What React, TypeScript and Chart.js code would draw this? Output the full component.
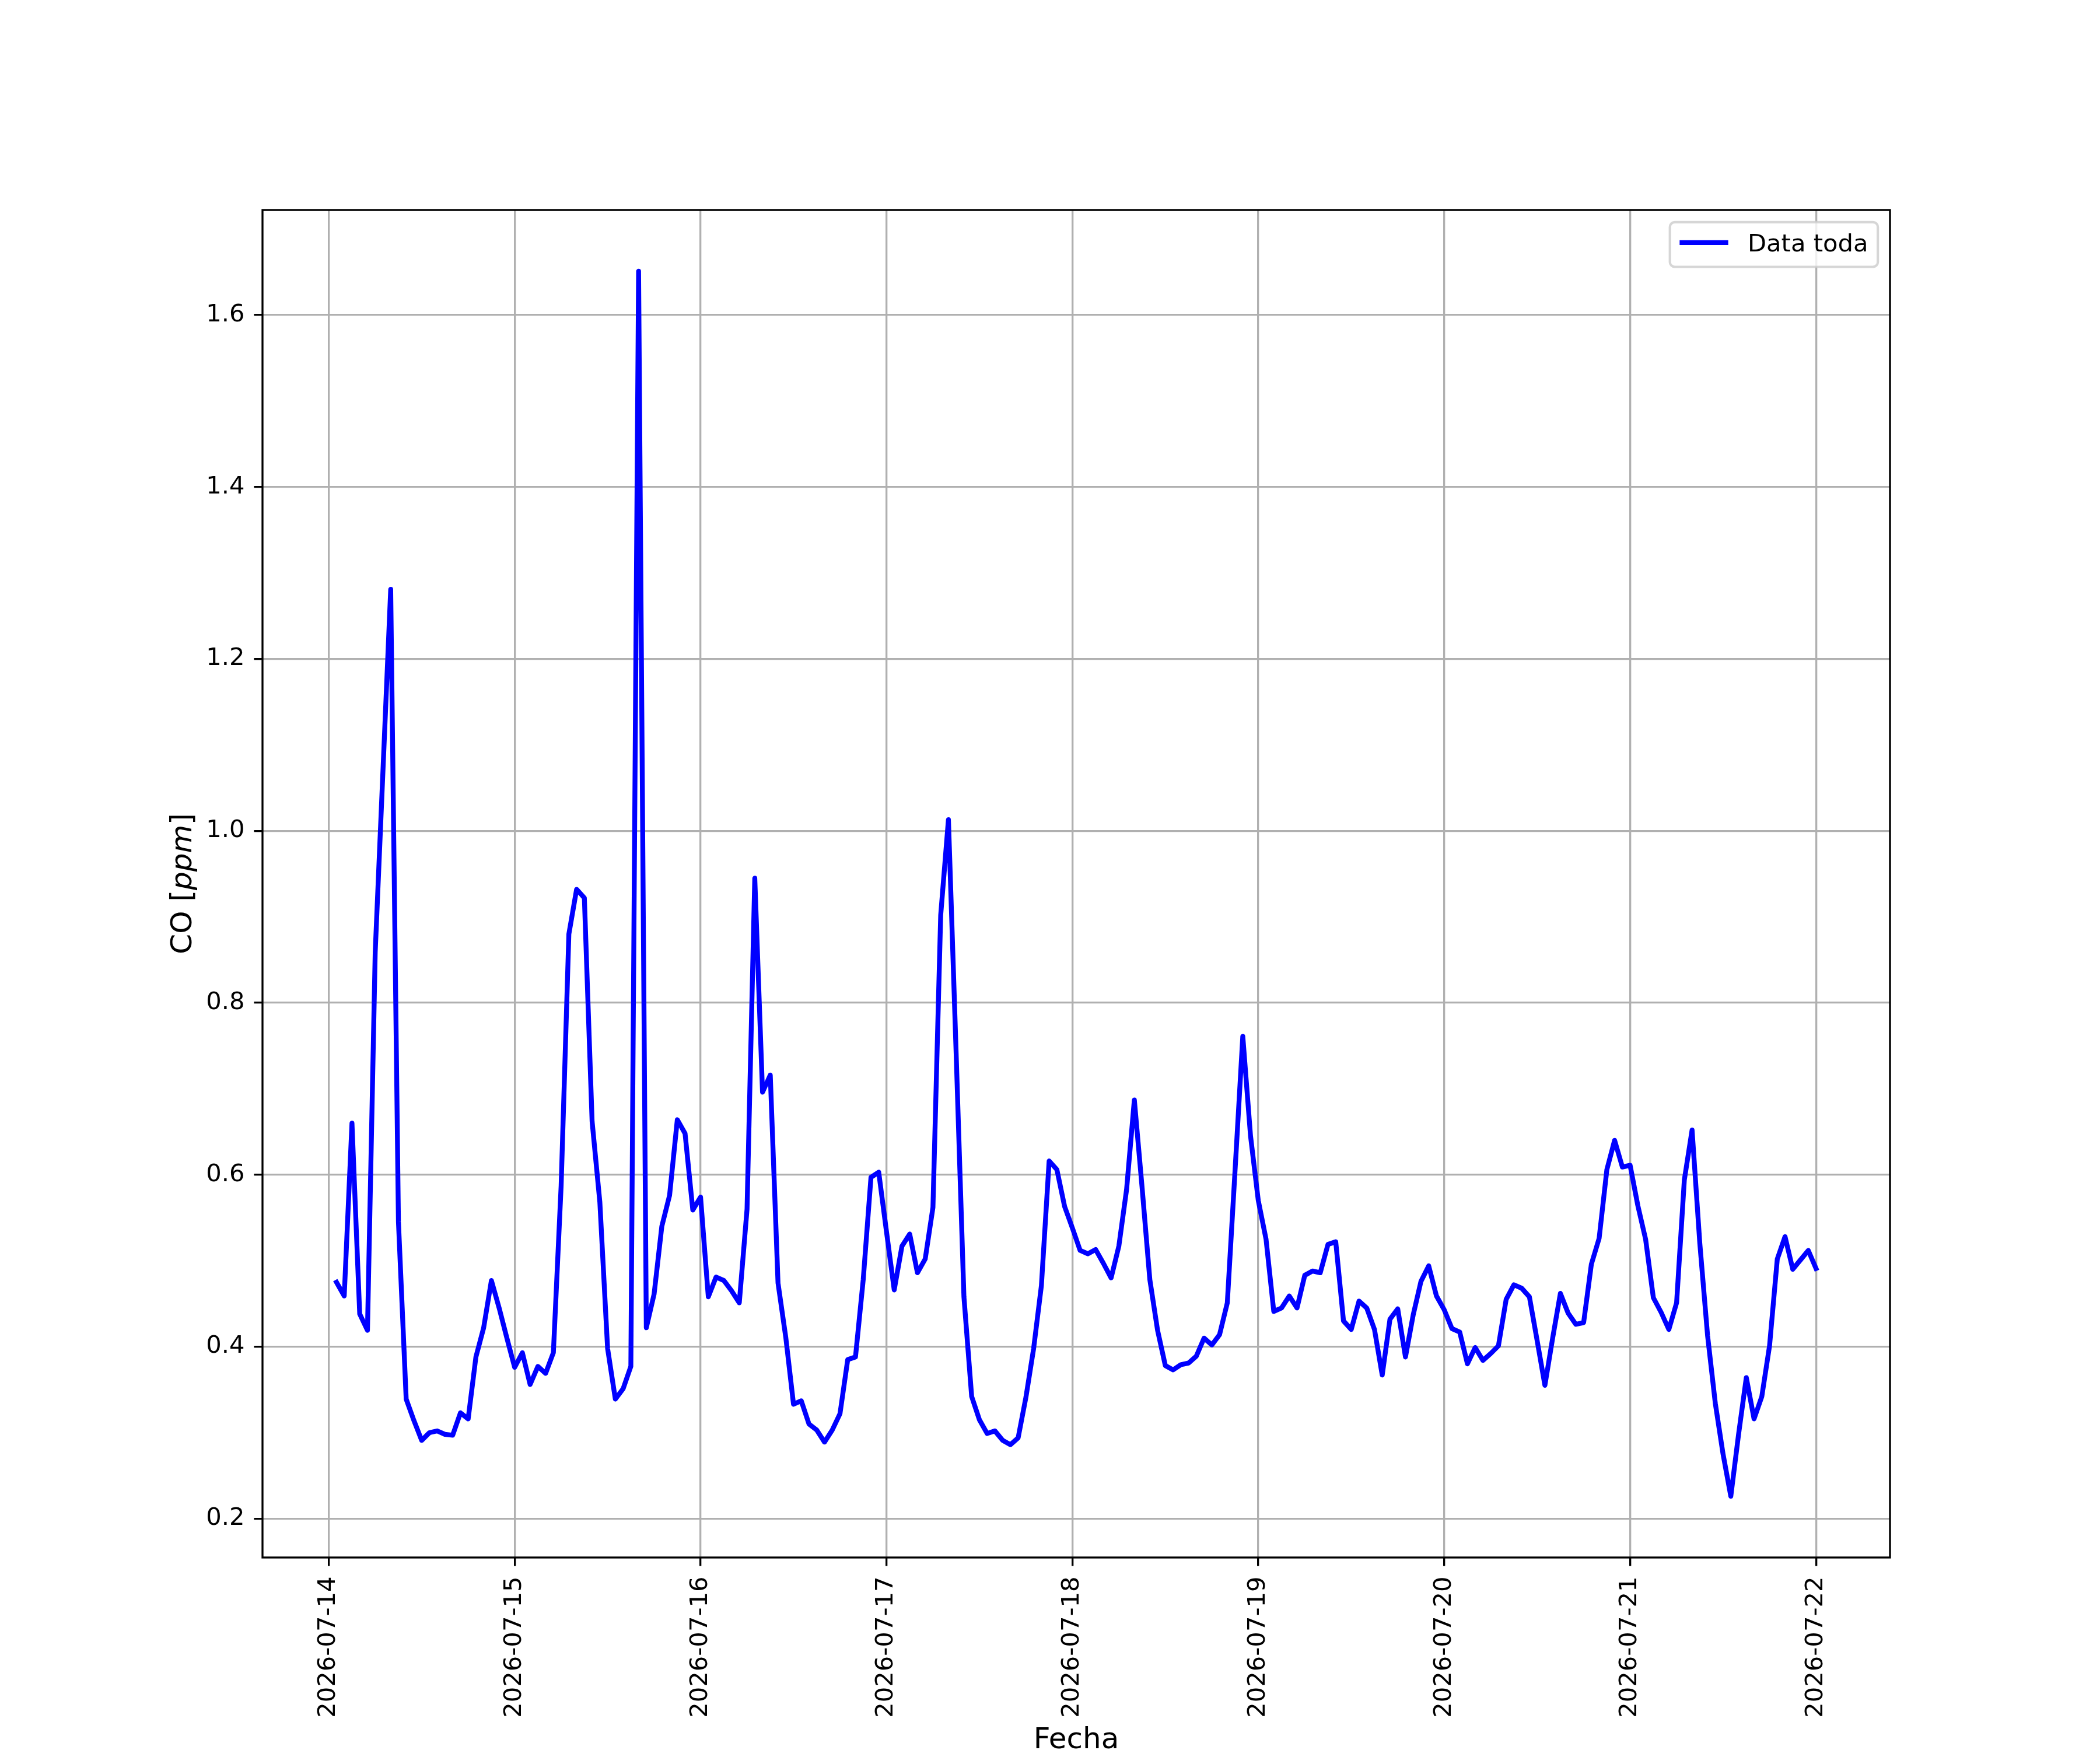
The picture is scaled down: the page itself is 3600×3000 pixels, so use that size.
import { useEffect, useRef } from 'react';
import { Chart, registerables } from 'chart.js';

Chart.register(...registerables);

// ---------- data ----------
const dayLabels = [
  '2026-07-14', '2026-07-15', '2026-07-16', '2026-07-17', '2026-07-18',
  '2026-07-19', '2026-07-20', '2026-07-21', '2026-07-22',
];
const firstHour = 1; // series starts 2026-07-14 01:00, hourly samples

const co_0714 = [0.475, 0.459, 0.660, 0.438, 0.419, 0.859, 1.07, 1.281, 0.545, 0.339, 0.314, 0.291, 0.300, 0.302, 0.298, 0.297, 0.323, 0.316, 0.388, 0.422, 0.477, 0.445, 0.410];
const co_0715 = [0.376, 0.393, 0.356, 0.377, 0.369, 0.393, 0.587, 0.880, 0.932, 0.922, 0.662, 0.568, 0.398, 0.339, 0.351, 0.377, 1.651, 0.422, 0.461, 0.540, 0.576, 0.664, 0.648, 0.559];
const co_0716 = [0.574, 0.458, 0.481, 0.477, 0.465, 0.451, 0.560, 0.945, 0.696, 0.716, 0.474, 0.411, 0.333, 0.337, 0.310, 0.303, 0.289, 0.303, 0.322, 0.385, 0.388, 0.478, 0.597, 0.603];
const co_0717 = [0.534, 0.466, 0.517, 0.531, 0.486, 0.502, 0.562, 0.902, 1.013, 0.740, 0.458, 0.342, 0.315, 0.299, 0.302, 0.291, 0.286, 0.294, 0.341, 0.398, 0.471, 0.616, 0.606, 0.563];
const co_0718 = [0.538, 0.512, 0.508, 0.513, 0.497, 0.480, 0.517, 0.583, 0.687, 0.585, 0.478, 0.419, 0.378, 0.373, 0.379, 0.381, 0.389, 0.410, 0.402, 0.414, 0.451, 0.605, 0.761, 0.645];
const co_0719 = [0.570, 0.525, 0.441, 0.445, 0.459, 0.445, 0.483, 0.488, 0.486, 0.519, 0.522, 0.430, 0.420, 0.453, 0.445, 0.420, 0.367, 0.432, 0.444, 0.388, 0.437, 0.476, 0.494, 0.459];
const co_0720 = [0.443, 0.421, 0.417, 0.380, 0.399, 0.384, 0.392, 0.401, 0.455, 0.472, 0.468, 0.458, 0.407, 0.355, 0.410, 0.462, 0.439, 0.426, 0.428, 0.496, 0.526, 0.606, 0.640, 0.609];
const co_0721 = [0.611, 0.564, 0.525, 0.457, 0.440, 0.420, 0.451, 0.594, 0.652, 0.520, 0.413, 0.334, 0.275, 0.226, 0.298, 0.364, 0.316, 0.342, 0.401, 0.502, 0.528, 0.490, 0.501, 0.512];
const co_0722 = [0.491];

const dailyCO = [co_0714, co_0715, co_0716, co_0717, co_0718, co_0719, co_0720, co_0721, co_0722];

const yTickValues = [0.2, 0.4, 0.6, 0.8, 1.0, 1.2, 1.4, 1.6];

const seriesLabel = 'Data toda';
const xTitle = 'Fecha';
const yTitleParts = [
  { text: 'CO [', italic: false },
  { text: 'ppm', italic: true },
  { text: ']', italic: false },
];

// ---------- styling ----------
const W = 3600;
const H = 3000;
const PT = 300 / 72;
const FONT = '"DejaVu Sans"';
const TICK_FS = 10 * PT;
const LABEL_FS = 12 * PT;

export default function App() {
  const ref = useRef<HTMLCanvasElement | null>(null);

  useEffect(() => {
    document.body.style.margin = '0';
    const canvas = ref.current;
    if (!canvas) return;

    const points: { x: number; y: number }[] = [];
    dailyCO.forEach((vals, d) => {
      vals.forEach((v, k) => {
        points.push({ x: d * 24 + (d === 0 ? firstHour : 0) + k, y: v });
      });
    });
    const xs = points.map((p) => p.x);
    const ys = points.map((p) => p.y);
    const xMin0 = Math.min(...xs), xMax0 = Math.max(...xs);
    const yMin0 = Math.min(...ys), yMax0 = Math.max(...ys);
    const xm = (xMax0 - xMin0) * 0.05;
    const ym = (yMax0 - yMin0) * 0.05;

    const decor = {
      id: 'decor',
      afterDatasetsDraw(chart: any) {
        const { ctx, chartArea: a } = chart;
        ctx.save();
        ctx.strokeStyle = '#000';
        ctx.lineWidth = 0.8 * PT;
        ctx.lineJoin = 'miter';
        ctx.strokeRect(a.left, a.top, a.right - a.left, a.bottom - a.top);
        ctx.restore();
      },
      afterDraw(chart: any) {
        const { ctx, chartArea: a } = chart;
        ctx.save();
        // legend
        const fs = TICK_FS;
        ctx.font = `${fs}px ${FONT}`;
        const tw = ctx.measureText(seriesLabel).width;
        const pad = 0.4 * fs, hl = 2 * fs, htp = 0.8 * fs, bap = 0.5 * fs;
        const right = a.right - bap;
        const top = a.top + bap;
        const left = right - (pad + hl + htp + tw + pad);
        const height = 2 * pad + 1.04 * fs;
        ctx.beginPath();
        (ctx as any).roundRect(left, top, right - left, height, 0.2 * fs);
        ctx.fillStyle = 'rgba(255,255,255,0.8)';
        ctx.fill();
        ctx.lineWidth = 1 * PT;
        ctx.strokeStyle = 'rgba(204,204,204,0.8)';
        ctx.stroke();
        const hy = top + 35;
        ctx.beginPath();
        ctx.moveTo(left + pad, hy);
        ctx.lineTo(left + pad + hl, hy);
        ctx.strokeStyle = '#0000ff';
        ctx.lineWidth = 2 * PT;
        ctx.lineCap = 'butt';
        ctx.stroke();
        ctx.fillStyle = '#000';
        ctx.textAlign = 'left';
        ctx.textBaseline = 'alphabetic';
        ctx.fillText(seriesLabel, left + pad + hl + htp, top + 50.5);

        // x title
        ctx.font = `${LABEL_FS}px ${FONT}`;
        ctx.textAlign = 'center';
        ctx.fillText(xTitle, (a.left + a.right) / 2, 2997);

        // y title (with italic unit)
        ctx.translate(a.left - 122.5, (a.top + a.bottom) / 2);
        ctx.rotate(-Math.PI / 2);
        ctx.textAlign = 'left';
        const widths = yTitleParts.map((p) => {
          ctx.font = `${p.italic ? 'italic ' : ''}${LABEL_FS}px ${FONT}`;
          return ctx.measureText(p.text).width;
        });
        let x = -widths.reduce((s, w) => s + w, 0) / 2;
        yTitleParts.forEach((p, i) => {
          ctx.font = `${p.italic ? 'italic ' : ''}${LABEL_FS}px ${FONT}`;
          ctx.fillText(p.text, x, 0);
          x += widths[i];
        });
        ctx.restore();
      },
    };

    const gridOpts = {
      color: '#b0b0b0',
      lineWidth: 0.8 * PT,
      drawTicks: true,
      tickLength: 3.5 * PT,
      tickColor: '#000',
      tickWidth: 0.8 * PT,
    };

    const chart = new Chart(canvas, {
      type: 'line',
      data: {
        datasets: [
          {
            label: seriesLabel,
            data: points,
            borderColor: '#0000ff',
            borderWidth: 2 * PT,
            pointRadius: 0,
            tension: 0,
            fill: false,
            borderJoinStyle: 'round',
            borderCapStyle: 'square',
          },
        ],
      },
      options: {
        animation: false,
        responsive: false,
        devicePixelRatio: 1,
        events: [],
        layout: { padding: { top: 360, right: 360, left: 0, bottom: 0 } },
        plugins: { legend: { display: false }, tooltip: { enabled: false } },
        scales: {
          x: {
            type: 'linear',
            min: xMin0 - xm,
            max: xMax0 + xm,
            afterBuildTicks: (s: any) => {
              s.ticks = dayLabels.map((_, i) => ({ value: i * 24 }));
            },
            afterFit: (s: any) => {
              s.height = 330;
            },
            ticks: {
              autoSkip: false,
              minRotation: 90,
              maxRotation: 90,
              padding: 18,
              color: '#000',
              font: { family: 'DejaVu Sans', size: TICK_FS },
              callback: (v: any) => dayLabels[Math.round(Number(v) / 24)],
            },
            grid: gridOpts,
            border: { display: false },
          },
          y: {
            type: 'linear',
            min: yMin0 - ym,
            max: yMax0 + ym,
            afterBuildTicks: (s: any) => {
              s.ticks = yTickValues.map((v) => ({ value: v }));
            },
            afterFit: (s: any) => {
              s.width = 450;
            },
            ticks: {
              autoSkip: false,
              padding: 16,
              color: '#000',
              font: { family: 'DejaVu Sans', size: TICK_FS },
              callback: (v: any) => Number(v).toFixed(1),
            },
            grid: gridOpts,
            border: { display: false },
          },
        },
      },
      plugins: [decor],
    } as any);

    return () => chart.destroy();
  }, []);

  return (
    <canvas
      ref={ref}
      width={W}
      height={H}
      style={{ display: 'block', width: W + 'px', height: H + 'px' }}
    />
  );
}
